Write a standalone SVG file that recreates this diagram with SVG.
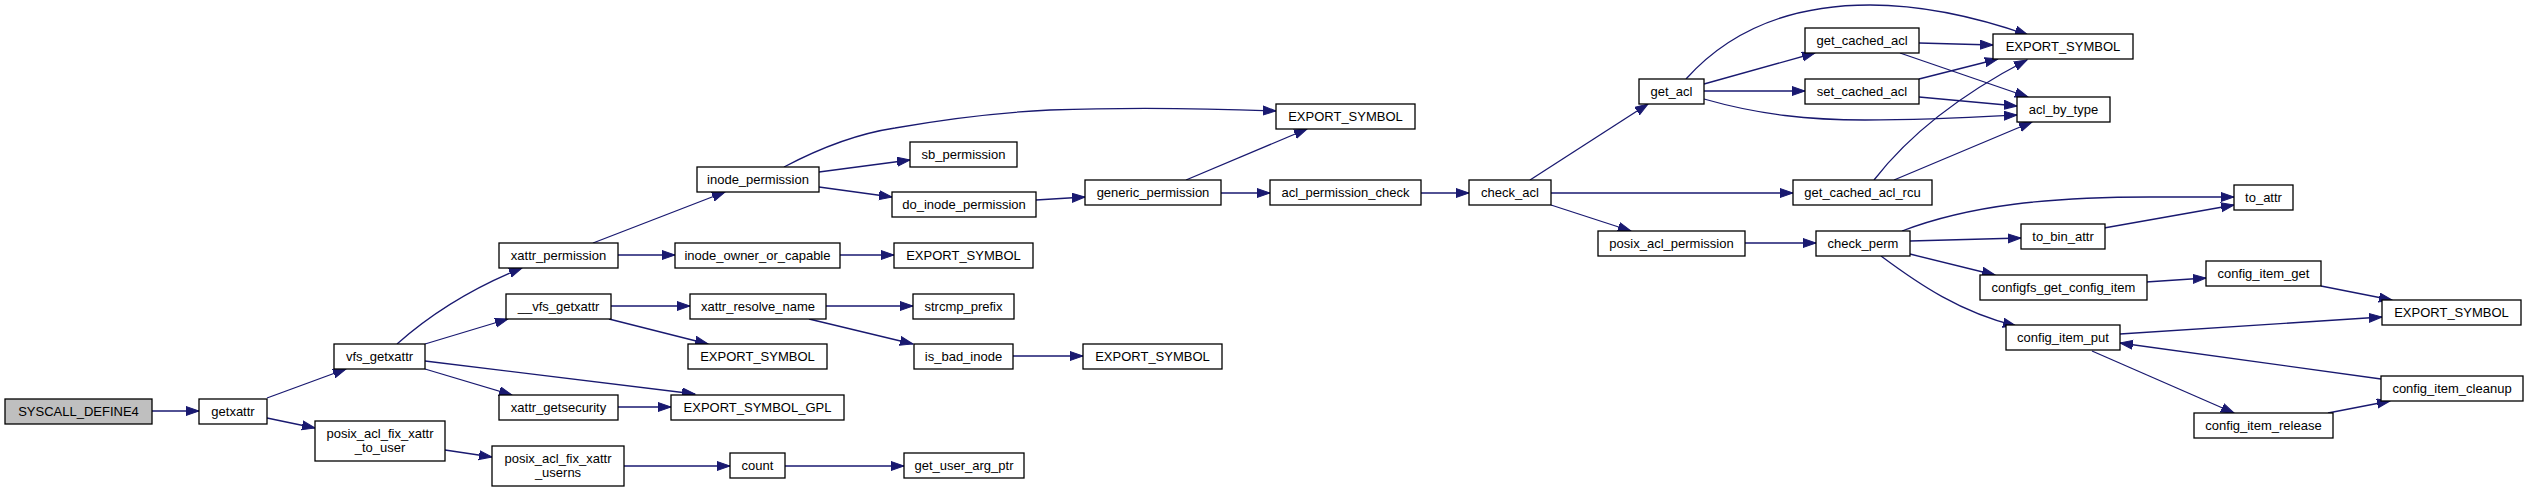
<svg xmlns="http://www.w3.org/2000/svg" width="2528" height="492" viewBox="0 0 2528 492">
<style>
.n rect{fill:#fff;stroke:#000;stroke-width:1.3}
.n text{font-family:"Liberation Sans",Arial,sans-serif;font-size:13px;fill:#000;text-anchor:middle}
#n0 rect{fill:#bfbfbf}
.e path{fill:none;stroke:#191970;stroke-width:1.3;marker-end:url(#ah)}
</style>
<defs>
<marker id="ah" markerUnits="userSpaceOnUse" markerWidth="16" markerHeight="12" refX="13" refY="5" orient="auto">
<path d="M0,0.5 L13,5 L0,9.5 z" fill="#191970" stroke="#191970" stroke-width="1"/>
</marker>
</defs>
<rect width="2528" height="492" fill="#fff"/>
<g id="edges" class="e">
<path d="M152,411 L199,411"/>
<path d="M267,398 L346,369"/>
<path d="M267,418 L315,428"/>
<path d="M397,344 C415,328 455,295 522,268"/>
<path d="M425,344 L508,319"/>
<path d="M425,361 L695,394"/>
<path d="M425,369 L512,395"/>
<path d="M618,407 L671,407"/>
<path d="M445,450 L492,457"/>
<path d="M624,466 L730,466"/>
<path d="M785,466 L904,466"/>
<path d="M593,243 L725,192"/>
<path d="M618,255 L675,255"/>
<path d="M840,255 L894,255"/>
<path d="M784,167 C820,148 855,134 895,128 C940,120 990,113 1050,110 C1130,107 1200,108 1276,111"/>
<path d="M819,172 L910,160"/>
<path d="M819,187 L892,197"/>
<path d="M1036,200 L1085,197"/>
<path d="M1186,180 L1307,129"/>
<path d="M1221,193 L1270,193"/>
<path d="M1421,193 L1469,193"/>
<path d="M1530,180 L1648,104"/>
<path d="M1551,193 L1793,193"/>
<path d="M1551,205 L1631,231"/>
<path d="M1686,79 C1730,30 1790,5 1870,5 C1930,5 1985,20 2028,35"/>
<path d="M1704,84 L1815,53"/>
<path d="M1704,91 L1805,91"/>
<path d="M1704,99 C1760,115 1810,120 1865,120 C1930,120 1980,117 2017,115"/>
<path d="M1919,43 L1993,45"/>
<path d="M1900,53 L2028,97"/>
<path d="M1919,79 L1998,59"/>
<path d="M1919,97 L2017,106"/>
<path d="M1874,180 C1905,140 1950,100 2027,60"/>
<path d="M1894,180 L2032,122"/>
<path d="M1745,243 L1816,243"/>
<path d="M1902,231 C1970,205 2050,197 2150,197 C2190,197 2215,197 2234,197"/>
<path d="M1910,241 L2021,238"/>
<path d="M1910,254 L1995,275"/>
<path d="M1881,256 C1920,285 1960,312 2016,326"/>
<path d="M2104,228 L2234,205"/>
<path d="M2146,282 L2206,278"/>
<path d="M2321,286 L2392,300"/>
<path d="M2120,334 L2382,317"/>
<path d="M2092,351 L2234,413"/>
<path d="M2328,413 L2390,401"/>
<path d="M2381,379 L2120,343"/>
<path d="M611,306 L690,306"/>
<path d="M609,319 L708,344"/>
<path d="M826,306 L913,306"/>
<path d="M809,319 L913,344"/>
<path d="M1013,356 L1083,356"/>
</g>
<g id="n0" class="n"><rect x="5" y="399" width="147" height="25"/><text x="78.5" y="416">SYSCALL_DEFINE4</text></g>
<g id="n1" class="n"><rect x="199" y="399" width="68" height="25"/><text x="233" y="416">getxattr</text></g>
<g id="n2" class="n"><rect x="334" y="344" width="91" height="25"/><text x="379.5" y="361">vfs_getxattr</text></g>
<g id="n3" class="n"><rect x="315" y="421" width="130" height="40"/><text x="380" y="438">posix_acl_fix_xattr</text><text x="380" y="452">_to_user</text></g>
<g id="n4" class="n"><rect x="499" y="243" width="119" height="25"/><text x="558.5" y="260">xattr_permission</text></g>
<g id="n5" class="n"><rect x="506" y="294" width="105" height="25"/><text x="558.5" y="311">__vfs_getxattr</text></g>
<g id="n6" class="n"><rect x="499" y="395" width="119" height="25"/><text x="558.5" y="412">xattr_getsecurity</text></g>
<g id="n7" class="n"><rect x="671" y="395" width="173" height="25"/><text x="757.5" y="412">EXPORT_SYMBOL_GPL</text></g>
<g id="n8" class="n"><rect x="492" y="446" width="132" height="40"/><text x="558" y="463">posix_acl_fix_xattr</text><text x="558" y="477">_userns</text></g>
<g id="n9" class="n"><rect x="697" y="167" width="122" height="25"/><text x="758" y="184">inode_permission</text></g>
<g id="n10" class="n"><rect x="675" y="243" width="165" height="25"/><text x="757.5" y="260">inode_owner_or_capable</text></g>
<g id="n11" class="n"><rect x="894" y="243" width="139" height="25"/><text x="963.5" y="260">EXPORT_SYMBOL</text></g>
<g id="n12" class="n"><rect x="690" y="294" width="136" height="25"/><text x="758" y="311">xattr_resolve_name</text></g>
<g id="n13" class="n"><rect x="688" y="344" width="139" height="25"/><text x="757.5" y="361">EXPORT_SYMBOL</text></g>
<g id="n14" class="n"><rect x="730" y="453" width="55" height="25"/><text x="757.5" y="470">count</text></g>
<g id="n15" class="n"><rect x="904" y="453" width="120" height="25"/><text x="964" y="470">get_user_arg_ptr</text></g>
<g id="n16" class="n"><rect x="1276" y="104" width="139" height="25"/><text x="1345.5" y="121">EXPORT_SYMBOL</text></g>
<g id="n17" class="n"><rect x="910" y="142" width="107" height="25"/><text x="963.5" y="159">sb_permission</text></g>
<g id="n18" class="n"><rect x="892" y="192" width="144" height="25"/><text x="964" y="209">do_inode_permission</text></g>
<g id="n19" class="n"><rect x="1085" y="180" width="136" height="25"/><text x="1153" y="197">generic_permission</text></g>
<g id="n20" class="n"><rect x="913" y="294" width="101" height="25"/><text x="963.5" y="311">strcmp_prefix</text></g>
<g id="n21" class="n"><rect x="914" y="344" width="99" height="25"/><text x="963.5" y="361">is_bad_inode</text></g>
<g id="n22" class="n"><rect x="1083" y="344" width="139" height="25"/><text x="1152.5" y="361">EXPORT_SYMBOL</text></g>
<g id="n23" class="n"><rect x="1270" y="180" width="151" height="25"/><text x="1345.5" y="197">acl_permission_check</text></g>
<g id="n24" class="n"><rect x="1469" y="180" width="82" height="25"/><text x="1510" y="197">check_acl</text></g>
<g id="n25" class="n"><rect x="1639" y="79" width="65" height="25"/><text x="1671.5" y="96">get_acl</text></g>
<g id="n26" class="n"><rect x="1793" y="180" width="139" height="25"/><text x="1862.5" y="197">get_cached_acl_rcu</text></g>
<g id="n27" class="n"><rect x="1598" y="231" width="147" height="25"/><text x="1671.5" y="248">posix_acl_permission</text></g>
<g id="n28" class="n"><rect x="1805" y="28" width="114" height="25"/><text x="1862" y="45">get_cached_acl</text></g>
<g id="n29" class="n"><rect x="1805" y="79" width="114" height="25"/><text x="1862" y="96">set_cached_acl</text></g>
<g id="n30" class="n"><rect x="1993" y="34" width="140" height="25"/><text x="2063" y="51">EXPORT_SYMBOL</text></g>
<g id="n31" class="n"><rect x="2017" y="97" width="93" height="25"/><text x="2063.5" y="114">acl_by_type</text></g>
<g id="n32" class="n"><rect x="1816" y="231" width="94" height="25"/><text x="1863" y="248">check_perm</text></g>
<g id="n33" class="n"><rect x="2021" y="224" width="84" height="25"/><text x="2063" y="241">to_bin_attr</text></g>
<g id="n34" class="n"><rect x="1980" y="275" width="167" height="25"/><text x="2063.5" y="292">configfs_get_config_item</text></g>
<g id="n35" class="n"><rect x="2006" y="325" width="114" height="25"/><text x="2063" y="342">config_item_put</text></g>
<g id="n36" class="n"><rect x="2234" y="185" width="59" height="25"/><text x="2263.5" y="202">to_attr</text></g>
<g id="n37" class="n"><rect x="2206" y="261" width="115" height="25"/><text x="2263.5" y="278">config_item_get</text></g>
<g id="n38" class="n"><rect x="2382" y="300" width="139" height="25"/><text x="2451.5" y="317">EXPORT_SYMBOL</text></g>
<g id="n39" class="n"><rect x="2381" y="376" width="142" height="25"/><text x="2452" y="393">config_item_cleanup</text></g>
<g id="n40" class="n"><rect x="2194" y="413" width="139" height="25"/><text x="2263.5" y="430">config_item_release</text></g>
</svg>
